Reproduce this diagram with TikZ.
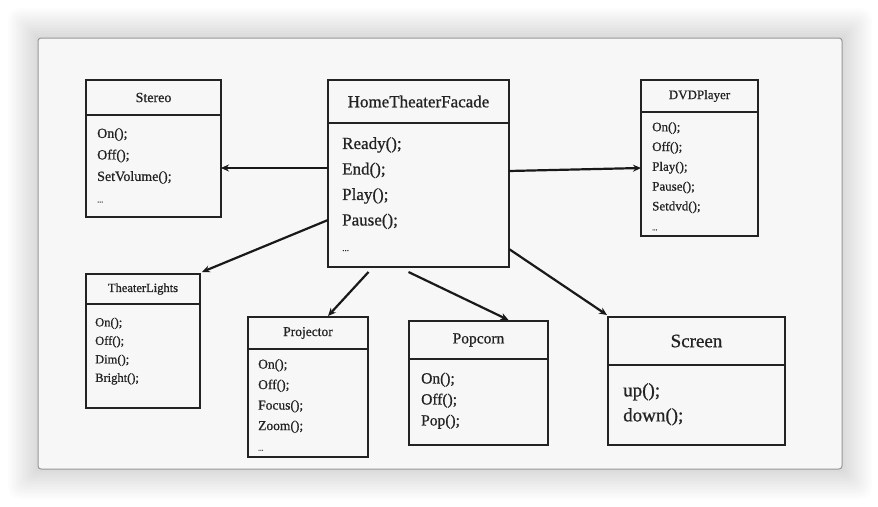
\documentclass[tikz,border=0pt]{standalone}
\usepackage{fontspec}
\setmainfont{Liberation Serif}[FakeBold=0.8]
\usetikzlibrary{positioning,calc,arrows.meta}
\definecolor{PanelGray}{RGB}{247,247,247}
\definecolor{PanelEdge}{RGB}{150,150,150}
\definecolor{InkGray}{RGB}{35,35,35}

\tikzset{
  titlebox/.style={draw=InkGray, line width=2pt, fill=PanelGray, inner sep=0pt, outer sep=0pt, text=InkGray},
  bodybox/.style={draw=InkGray, line width=2pt, fill=PanelGray, inner sep=0pt, outer sep=0pt},
  methods/.style={anchor=north west, align=left, inner sep=0pt, text=InkGray},
  link/.style={draw=black!90, line width=2.2pt, -{Stealth[length=8pt,width=7pt]}},
}

\begin{document}
\begin{tikzpicture}[x=1pt,y=-1pt]
  \useasboundingbox (0,0) rectangle (878,506);
  % shadow and panel
  \foreach \s in {1,...,12}
    \fill[black, opacity=0.013, rounded corners=\s pt] ({38-2.5*\s},{38-2.5*\s}) rectangle ({842+2.5*\s},{469+2.5*\s});
  \draw[PanelEdge, fill=PanelGray, line width=1pt, rounded corners=3pt] (38,38) rectangle (842,469);

  % Stereo
  \node[titlebox, minimum width=135pt, minimum height=35pt, font=\fontsize{14}{16}\selectfont] (stereoT) at (153.5,97.5) {Stereo};
  \node[bodybox, minimum width=135pt, minimum height=102pt, below=0pt of stereoT] (stereoB) {};
  \node[methods, font=\fontsize{14}{21.5}\selectfont] (stereoM) at (97,128) {On();\\Off();\\SetVolume();\\{\footnotesize...}};

  % HomeTheaterFacade
  \node[titlebox, minimum width=181pt, minimum height=43pt, font=\fontsize{17}{19}\selectfont] (facadeT) at (418.5,101.5) {HomeTheaterFacade};
  \node[bodybox, minimum width=181pt, minimum height=144pt, below=0pt of facadeT] (facadeB) {};
  \node[methods, font=\fontsize{17}{25.5}\selectfont] (facadeM) at (342,137) {Ready();\\End();\\Play();\\Pause();\\{\small...}};

  % DVDPlayer
  \node[titlebox, minimum width=117pt, minimum height=32pt, font=\fontsize{13}{15}\selectfont] (dvdT) at (699.5,96) {DVDPlayer};
  \node[bodybox, minimum width=117pt, minimum height=124pt, below=0pt of dvdT] (dvdB) {};
  \node[methods, font=\fontsize{13}{19.8}\selectfont] (dvdM) at (652,122) {On();\\Off();\\Play();\\Pause();\\Setdvd();\\{\scriptsize...}};

  % TheaterLights
  \node[titlebox, minimum width=114pt, minimum height=30pt, font=\fontsize{12.5}{14}\selectfont] (lightsT) at (143,289) {TheaterLights};
  \node[bodybox, minimum width=114pt, minimum height=104pt, below=0pt of lightsT] (lightsB) {};
  \node[methods, font=\fontsize{12.5}{18.5}\selectfont] (lightsM) at (95,317.5) {On();\\Off();\\Dim();\\Bright();};

  % Projector
  \node[titlebox, minimum width=120pt, minimum height=32pt, font=\fontsize{13.5}{15}\selectfont] (projT) at (308,333) {Projector};
  \node[bodybox, minimum width=120pt, minimum height=108pt, below=0pt of projT] (projB) {};
  \node[methods, font=\fontsize{13.5}{20.5}\selectfont] (projM) at (258,359) {On();\\Off();\\Focus();\\Zoom();\\{\scriptsize...}};

  % Popcorn
  \node[titlebox, minimum width=139pt, minimum height=38pt, font=\fontsize{15.5}{17}\selectfont] (popT) at (478.5,340) {Popcorn};
  \node[bodybox, minimum width=139pt, minimum height=86pt, below=0pt of popT] (popB) {};
  \node[methods, font=\fontsize{15.5}{21}\selectfont] (popM) at (421,372.5) {On();\\Off();\\Pop();};

  % Screen
  \node[titlebox, minimum width=177pt, minimum height=48pt, font=\fontsize{19}{21}\selectfont] (screenT) at (696.5,341) {Screen};
  \node[bodybox, minimum width=177pt, minimum height=80pt, below=0pt of screenT] (screenB) {};
  \node[methods, font=\fontsize{19}{25}\selectfont] (screenM) at (623,383) {up();\\down();};

  % connectors
  \draw[link] ($(facadeB.west |- stereoB.east)+(0,2)$) -- ($(stereoB.east)+(0,2)$);
  \draw[link] ($(facadeB.east)+(0,-24)$) -- ($(dvdB.west)+(0,-6)$);
  \draw[link] ($(facadeB.west)+(0,25)$) -- ($(lightsT.north east)+(2,-2)$);
  \draw[link] ($(facadeB.south)+(-50,5)$) -- ($(projT.north)+(20,-1)$);
  \draw[link] ($(facadeB.south)+(-10,5)$) -- ($(popT.north)+(30,-1)$);
  \draw[link] ($(facadeB.east)+(0,54)$) -- ($(screenT.north west)+(-1,-2)$);
\end{tikzpicture}
\end{document}
